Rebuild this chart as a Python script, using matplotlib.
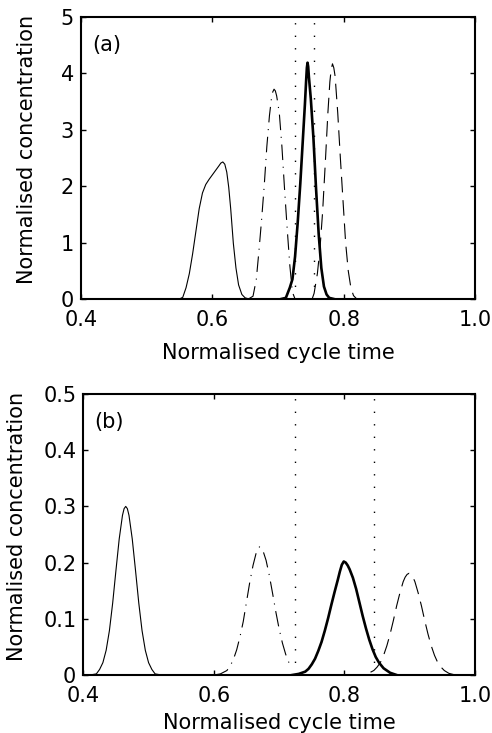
import matplotlib
matplotlib.use("Agg")
import matplotlib.pyplot as plt

plt.rcParams["font.family"] = ["DejaVu Sans"]

# ---- panel (a) ----
a_x1 = [0.550, 0.555, 0.560, 0.565, 0.570, 0.575, 0.580, 0.585, 0.590, 0.595, 0.600,
        0.605, 0.610, 0.613, 0.616, 0.619, 0.622, 0.625, 0.628, 0.632, 0.636, 0.640,
        0.645, 0.650, 0.656]
a_y1 = [0.0, 0.03, 0.2, 0.45, 0.8, 1.2, 1.6, 1.88, 2.03, 2.12, 2.2,
        2.28, 2.36, 2.41, 2.43, 2.39, 2.25, 1.98, 1.6, 0.99, 0.55, 0.25,
        0.08, 0.02, 0.0]

a_x2 = [0.655, 0.662, 0.667, 0.671, 0.675, 0.679, 0.683, 0.687, 0.690, 0.692, 0.694,
        0.696, 0.698, 0.702, 0.706, 0.710, 0.714, 0.718, 0.722, 0.726]
a_y2 = [0.0, 0.05, 0.35, 0.85, 1.40, 2.0, 2.7, 3.25, 3.55, 3.67, 3.72,
        3.69, 3.6, 3.3, 2.7, 1.95, 1.25, 0.6, 0.12, 0.0]

a_x3 = [0.705, 0.712, 0.718, 0.722, 0.726, 0.730, 0.734, 0.738, 0.741, 0.743, 0.744,
        0.745, 0.746, 0.747, 0.750, 0.754, 0.758, 0.762, 0.766, 0.770, 0.774, 0.778,
        0.785]
a_y3 = [0.0, 0.02, 0.2, 0.35, 0.75, 1.35, 2.05, 2.85, 3.45, 3.9, 4.1,
        4.19, 4.12, 3.95, 3.55, 2.85, 1.95, 1.15, 0.55, 0.22, 0.08, 0.02,
        0.0]

a_x4 = [0.752, 0.755, 0.760, 0.764, 0.768, 0.772, 0.776, 0.779, 0.781, 0.783, 0.785,
        0.787, 0.791, 0.795, 0.799, 0.803, 0.807, 0.811, 0.815, 0.820]
a_y4 = [0.0, 0.1, 0.45, 0.9, 1.55, 2.4, 3.3, 3.85, 4.07, 4.17, 4.1,
        3.95, 3.3, 2.5, 1.75, 1.0, 0.5, 0.2, 0.06, 0.0]

a_vlines = [0.726, 0.755]

# ---- panel (b) ----
b_x1 = [0.410, 0.420, 0.425, 0.430, 0.435, 0.440, 0.445, 0.450, 0.455, 0.460, 0.4625,
        0.465, 0.4675, 0.470, 0.475, 0.480, 0.485, 0.490, 0.495, 0.500, 0.505, 0.510,
        0.520]
b_y1 = [0.0, 0.002, 0.01, 0.022, 0.044, 0.079, 0.128, 0.186, 0.242, 0.284, 0.296,
        0.300, 0.296, 0.284, 0.242, 0.186, 0.128, 0.079, 0.044, 0.022, 0.01, 0.002,
        0.0]

b_x2 = [0.600, 0.610, 0.620, 0.625, 0.630, 0.635, 0.640, 0.645, 0.650, 0.655, 0.660,
        0.665, 0.6675, 0.670, 0.6725, 0.675, 0.680, 0.685, 0.690, 0.695, 0.700, 0.705,
        0.710, 0.715, 0.720]
b_y2 = [0.0, 0.002, 0.008, 0.016, 0.028, 0.045, 0.068, 0.095, 0.13, 0.165, 0.195,
        0.218, 0.225, 0.228, 0.226, 0.222, 0.204, 0.177, 0.145, 0.112, 0.082, 0.057,
        0.037, 0.022, 0.012]

b_x3 = [0.720, 0.730, 0.740, 0.745, 0.750, 0.755, 0.760, 0.765, 0.770, 0.775, 0.780,
        0.785, 0.790, 0.793, 0.796, 0.799, 0.802, 0.805, 0.808, 0.813, 0.818, 0.823,
        0.828, 0.833, 0.838, 0.843, 0.848, 0.853, 0.860, 0.870, 0.880]
b_y3 = [0.0, 0.002, 0.006, 0.011, 0.019, 0.029, 0.043, 0.059, 0.079, 0.101, 0.125,
        0.148, 0.170, 0.184, 0.196, 0.202, 0.200, 0.195, 0.188, 0.173, 0.153, 0.129,
        0.105, 0.083, 0.063, 0.046, 0.032, 0.022, 0.012, 0.004, 0.0]

b_x4 = [0.840, 0.845, 0.850, 0.855, 0.860, 0.865, 0.870, 0.875, 0.880, 0.885, 0.890,
        0.893, 0.896, 0.899, 0.902, 0.905, 0.908, 0.913, 0.918, 0.923, 0.928, 0.933,
        0.938, 0.943, 0.948, 0.953, 0.960, 0.970]
b_y4 = [0.005, 0.008, 0.014, 0.022, 0.035, 0.052, 0.073, 0.097, 0.123, 0.146, 0.166,
        0.174, 0.179, 0.181, 0.179, 0.174, 0.166, 0.146, 0.123, 0.097, 0.073, 0.052,
        0.035, 0.022, 0.014, 0.008, 0.003, 0.0]

b_vlines = [0.724, 0.845]

x_ticks = [0.4, 0.6, 0.8, 1.0]
x_ticklabels = ["0.4", "0.6", "0.8", "1.0"]
a_yticks = [0, 1, 2, 3, 4, 5]
a_yticklabels = ["0", "1", "2", "3", "4", "5"]
b_yticks = [0, 0.1, 0.2, 0.3, 0.4, 0.5]
b_yticklabels = ["0", "0.1", "0.2", "0.3", "0.4", "0.5"]

fig = plt.figure(figsize=(4.92, 7.33), dpi=100)
ax_a = fig.add_axes([0.1646, 0.5921, 0.8008, 0.3847])
ax_b = fig.add_axes([0.1693, 0.0791, 0.7961, 0.3834])

thin = 0.8
fs = 15
dash = (0, (14, 7))
dashdot = (0, (14, 6, 1, 6))
dots = (0, (1, 8))


def draw(ax, curves, vlines, ymax, yticks, yticklabels, tag, ylab_x, xlab_y):
    (x1, y1), (x2, y2), (x3, y3), (x4, y4) = curves
    ax.plot(x1, y1, color="black", lw=thin)
    ax.plot(x2, y2, color="black", lw=thin, linestyle=dashdot)
    ax.plot(x3, y3, color="black", lw=1.9)
    ax.plot(x4, y4, color="black", lw=thin, linestyle=dash)
    for v in vlines:
        ax.plot([v, v], [0, ymax], color="black", lw=1.0, linestyle=dots)
    ax.set_xlim(0.4, 1.0)
    ax.set_ylim(0, ymax)
    ax.set_xticks(x_ticks)
    ax.set_xticklabels(x_ticklabels)
    ax.set_yticks(yticks)
    ax.set_yticklabels(yticklabels)
    ax.tick_params(direction="in", top=True, right=True, length=3.6, width=1,
                   labelsize=fs)
    ax.tick_params(axis="x", pad=8)
    ax.tick_params(axis="y", pad=5)
    for s in ax.spines.values():
        s.set_linewidth(1.5)
    ax.set_xlabel("Normalised cycle time", fontsize=fs)
    ax.set_ylabel("Normalised concentration", fontsize=fs)
    ax.xaxis.set_label_coords(0.5, xlab_y)
    ax.yaxis.set_label_coords(ylab_x, 0.53)
    ax.text(0.028, 0.9, tag, transform=ax.transAxes, fontsize=fs, va="center")


draw(ax_a, [(a_x1, a_y1), (a_x2, a_y2), (a_x3, a_y3), (a_x4, a_y4)],
     a_vlines, 5, a_yticks, a_yticklabels, "(a)", -0.112, -0.156)
draw(ax_b, [(b_x1, b_y1), (b_x2, b_y2), (b_x3, b_y3), (b_x4, b_y4)],
     b_vlines, 0.5, b_yticks, b_yticklabels, "(b)", -0.144, -0.135)

fig.savefig("out.png", dpi=100)
